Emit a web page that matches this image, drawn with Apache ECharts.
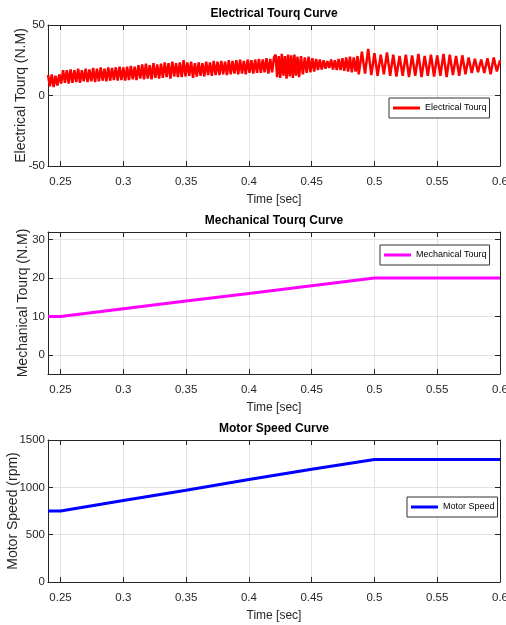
<!DOCTYPE html>
<html><head><meta charset="utf-8">
<script src="https://cdn.jsdelivr.net/npm/echarts@6/dist/echarts.min.js"></script>
<style>html,body{margin:0;padding:0;background:#fff}#c{width:506px;height:625px}</style>
</head><body><div id="c"></div>
<script>
// ---- data ----
const xTicks = [0.25, 0.3, 0.35, 0.4, 0.45, 0.5, 0.55, 0.6];
const elecYTicks = [-50, 0, 50];
const mechYTicks = [0, 10, 20, 30];
const speedYTicks = [0, 500, 1000, 1500];

// Electrical torque, segment A: dense noise band, 0.24 s .. 0.42 s every 1.5 ms
const elecA_start = 0.24, elecA_step = 0.0015;
const elecA = [
  14.5, 6.5, 15, 6, 14, 7, 15, 8.5, 18, 9,
  18, 8.5, 18.5, 9, 18, 9.5, 19, 9, 18, 10,
  19, 9.5, 18.5, 10, 19.5, 9.5, 19, 10, 20, 10.5,
  19, 10, 20, 10.5, 19.5, 11, 20, 10.5, 20.5, 11,
  20, 10.5, 20.5, 11, 21, 11.5, 20.5, 11, 21.5, 12,
  22, 11.5, 22.5, 12, 21.5, 11.5, 23, 12.5, 22, 12,
  22.5, 12.5, 23.5, 13, 23, 12, 24, 13.5, 23, 13,
  23.5, 13, 25, 13.5, 23.5, 14, 24, 12.5, 23, 13.5,
  23.5, 14, 23, 13.5, 24, 14.5, 23.5, 14, 24.5, 14.5,
  24, 14.5, 24.5, 15, 24, 14.5, 25, 15, 24.5, 15.5,
  25, 15, 25.5, 15.5, 24.5, 15, 25.5, 16, 25, 15.5,
  25.5, 16, 26, 16, 25.5, 16.5, 26.5, 15.5, 26, 16.5, 27
];
// segment B: strong fast oscillation, 0.42125 s .. 0.44 s every 1.25 ms
const elecB_start = 0.42125, elecB_step = 0.00125;
const elecB = [29, 13, 28, 12.5, 29.5, 14, 28, 12, 29, 13.5, 28.5, 12.5, 29, 14, 27.5, 13];
// segment C: moderate band, 0.4415 s .. 0.4865 s every 1.5 ms
const elecC_start = 0.4415, elecC_step = 0.0015;
const elecC = [
  28, 15, 27, 16, 27.5, 16.5, 26.5, 17, 26, 18,
  25.5, 18.5, 25, 19, 24.5, 19.5, 25.5, 18.5, 25, 18,
  26, 18, 26.5, 17.5, 27, 17, 27.5, 16.5, 27, 17, 28
];
// segment D: regular oscillation, 0.4875 s .. 0.6 s every 2.5 ms
const elecD_start = 0.4875, elecD_step = 0.0025;
const elecD = [
  15, 31, 15.5, 33, 14.5, 30, 14, 29, 15, 30.5,
  14, 29, 13.5, 28, 14, 29, 13, 28.5, 14, 29.5,
  13, 28, 14, 29, 13.5, 28.5, 14, 29.5, 13, 29,
  14.5, 28, 14, 28.5, 15, 27, 16, 26, 16.5, 25.5,
  16, 26.5, 15, 27, 17, 25
];

const mechTime   = [0.24, 0.25, 0.3, 0.35, 0.4, 0.45, 0.5, 0.6];
const mechTorque = [10, 10, 12, 14, 16, 18, 20, 20];

const speedTime  = [0.24, 0.25, 0.3, 0.35, 0.4, 0.45, 0.5, 0.52, 0.54, 0.56, 0.58, 0.6];
const motorSpeed = [750, 750, 860, 970, 1082, 1190, 1295, 1293, 1295, 1293, 1295, 1294];

// ---- build ----
const elecData = [];
[[elecA_start, elecA_step, elecA], [elecB_start, elecB_step, elecB],
 [elecC_start, elecC_step, elecC], [elecD_start, elecD_step, elecD]].forEach(([s, d, vals]) => {
  vals.forEach((v, i) => elecData.push([s + i * d, v]));
});
const mechData = mechTime.map((t, i) => [t, mechTorque[i]]);
const speedData = speedTime.map((t, i) => [t, motorSpeed[i]]);

const SANS = '"Liberation Sans", Arial, Helvetica, sans-serif';
const AX = '#262626';
const GRIDC = '#e2e2e2';
const fmt = v => String(Number(v.toFixed(3)));

const grids = [
  {left: 48, right: 6, top: 25, height: 141},
  {left: 48, right: 6, top: 232, height: 142},
  {left: 48, right: 6, top: 440, height: 142}
].map(g => Object.assign({outerBoundsMode: 'none', containLabel: false}, g));

function xAxes(gi) {
  return [{
    type: 'value', gridIndex: gi, min: 0.24, max: 0.6, position: 'bottom',
    axisLine: {show: true, onZero: false, lineStyle: {color: AX, width: 1}},
    axisTick: {show: true, inside: true, length: 5, customValues: xTicks, lineStyle: {color: AX}},
    axisLabel: {customValues: xTicks, formatter: fmt, color: AX, fontFamily: SANS, fontSize: 11.5, margin: 10},
    splitLine: {show: true, lineStyle: {color: GRIDC, width: 1}},
    name: 'Time [sec]', nameLocation: 'middle', nameGap: 28, nameMoveOverlap: false,
    nameTextStyle: {color: AX, fontFamily: SANS, fontSize: 12}
  }, {
    type: 'value', gridIndex: gi, min: 0.24, max: 0.6, position: 'top',
    axisLine: {show: true, onZero: false, lineStyle: {color: AX, width: 1}},
    axisTick: {show: true, inside: true, length: 5, customValues: xTicks, lineStyle: {color: AX}},
    axisLabel: {show: false, customValues: xTicks},
    splitLine: {show: false}
  }];
}
function yAxes(gi, min, max, ticks, name, gap) {
  return [{
    type: 'value', gridIndex: gi, min: min, max: max, position: 'left',
    axisLine: {show: true, onZero: false, lineStyle: {color: AX, width: 1}},
    axisTick: {show: true, inside: true, length: 5, customValues: ticks, lineStyle: {color: AX}},
    axisLabel: {customValues: ticks, formatter: fmt, color: AX, fontFamily: SANS, fontSize: 11.5, margin: 3},
    splitLine: {show: true, lineStyle: {color: GRIDC, width: 1}},
    name: name, nameLocation: 'middle', nameGap: gap, nameRotate: 90, nameMoveOverlap: false,
    nameTextStyle: {color: AX, fontFamily: SANS, fontSize: 14}
  }, {
    type: 'value', gridIndex: gi, min: min, max: max, position: 'right',
    axisLine: {show: true, onZero: false, lineStyle: {color: AX, width: 1}},
    axisTick: {show: true, inside: true, length: 5, customValues: ticks, lineStyle: {color: AX}},
    axisLabel: {show: false, customValues: ticks},
    splitLine: {show: false}
  }];
}

const titleStyle = {color: '#000', fontFamily: SANS, fontSize: 12, fontWeight: 'bold'};
function legend(name, left, top) {
  return {
    data: [name], left: left, top: top, orient: 'vertical',
    backgroundColor: '#fff', borderColor: '#333', borderWidth: 1, borderRadius: 0,
    padding: [3, 3, 3, 4], itemWidth: 27, itemHeight: 3, icon: 'rect',
    textStyle: {color: '#000', fontFamily: SANS, fontSize: 9, lineHeight: 14}
  };
}

const option = {
  animation: false,
  backgroundColor: '#fff',
  title: [
    {text: 'Electrical Tourq Curve', left: 274, top: 8, textAlign: 'center', textStyle: titleStyle, padding: 0},
    {text: 'Mechanical Tourq Curve', left: 274, top: 215, textAlign: 'center', textStyle: titleStyle, padding: 0},
    {text: 'Motor Speed Curve', left: 274, top: 423, textAlign: 'center', textStyle: titleStyle, padding: 0}
  ],
  legend: [
    legend('Electrical Tourq', 389, 98),
    legend('Mechanical Tourq', 380, 245),
    legend('Motor Speed', 407, 497)
  ],
  grid: grids,
  xAxis: [...xAxes(0), ...xAxes(1), ...xAxes(2)],
  yAxis: [
    ...yAxes(0, -50, 50, elecYTicks, 'Electrical Tourq (N.M)', 20),
    ...yAxes(1, -5, 32, mechYTicks, 'Mechanical Tourq (N.M)', 18),
    ...yAxes(2, 0, 1500, speedYTicks, 'Motor Speed (rpm)', 28)
  ],
  series: [
    {name: 'Electrical Tourq', type: 'line', xAxisIndex: 0, yAxisIndex: 0, data: elecData,
     showSymbol: false, symbol: 'none', color: '#ff0000', lineStyle: {color: '#ff0000', width: 2.5}},
    {name: 'Mechanical Tourq', type: 'line', xAxisIndex: 2, yAxisIndex: 2, data: mechData,
     showSymbol: false, symbol: 'none', color: '#ff00ff', lineStyle: {color: '#ff00ff', width: 3}},
    {name: 'Motor Speed', type: 'line', xAxisIndex: 4, yAxisIndex: 4, data: speedData,
     showSymbol: false, symbol: 'none', color: '#0000ff', lineStyle: {color: '#0000ff', width: 3}}
  ]
};
const chart = echarts.init(document.getElementById('c'), null, {renderer: 'canvas'});
chart.setOption(option);
</script>
</body></html>
